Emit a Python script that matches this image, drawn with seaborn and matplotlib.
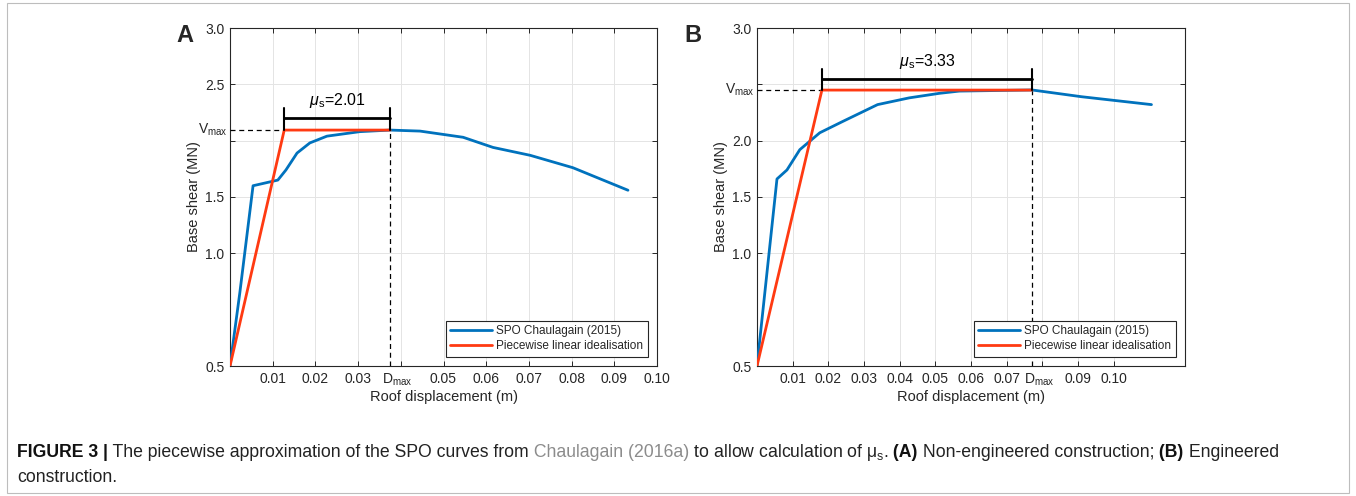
import matplotlib
matplotlib.use("Agg")
import matplotlib.pyplot as plt
import matplotlib.transforms as mtransforms
from matplotlib.patches import Rectangle
import seaborn as sns
import pandas as pd

# ---------------- data ----------------
# Panel A (non-engineered)
a_disp = [0.0, 0.0023, 0.0054, 0.0112, 0.0131, 0.0157, 0.0187, 0.0227, 0.0304, 0.0375,
          0.0445, 0.0546, 0.0616, 0.0703, 0.0803, 0.0932]
a_shear = [0.0, 0.65, 1.60, 1.65, 1.74, 1.89, 1.98, 2.04, 2.08, 2.094,
           2.085, 2.03, 1.94, 1.87, 1.76, 1.56]
a_idl_disp = [0.0, 0.0127, 0.0375]
a_idl_shear = [0.0, 2.094, 2.094]
a_dmax = 0.0375
a_vmax = 2.094
a_mu = "2.01"

# Panel B (engineered)
b_disp = [0.0, 0.0056, 0.0084, 0.0120, 0.0176, 0.0240, 0.0338, 0.0427, 0.0511, 0.0567,
          0.0771, 0.0910, 0.1106]
b_shear = [0.0, 1.66, 1.74, 1.92, 2.07, 2.17, 2.32, 2.38, 2.42, 2.44,
           2.45, 2.39, 2.32]
b_idl_disp = [0.0, 0.0182, 0.0771]
b_idl_shear = [0.0, 2.449, 2.449]
b_dmax = 0.0771
b_vmax = 2.449
b_mu = "3.33"

y_ticks = [0.0, 1.0, 1.5, 2.0, 2.5, 3.0]
a_yticklabels = ["0.5", "1.0", "1.5", "", "2.5", "3.0"]
b_yticklabels = ["0.5", "1.0", "1.5", "2.0", "", "3.0"]
x_ticks = [0.01, 0.02, 0.03, 0.04, 0.05, 0.06, 0.07, 0.08, 0.09, 0.10]
a_xticklabels = ["0.01", "0.02", "0.03", "", "0.05", "0.06", "0.07", "0.08", "0.09", "0.10"]
b_xticklabels = ["0.01", "0.02", "0.03", "0.04", "0.05", "0.06", "0.07", "", "0.09", "0.10"]

series_names = ["SPO Chaulagain (2015)", "Piecewise linear idealisation"]
BLUE = "#0072BD"
RED = "#FF3A12"

# ---------------- style ----------------
sns.set_theme(style="ticks")
plt.rcParams["font.family"] = ["Liberation Sans", "DejaVu Sans"]
plt.rcParams["mathtext.fontset"] = "custom"
plt.rcParams["mathtext.rm"] = "Liberation Sans"
plt.rcParams["mathtext.it"] = "Liberation Sans:italic"

W, H = 1356, 496
fig = plt.figure(figsize=(W / 100, H / 100), dpi=100)

axA = fig.add_axes([230 / W, 1 - 366 / H, 427 / W, 338 / H])
axB = fig.add_axes([757 / W, 1 - 366 / H, 428 / W, 338 / H])


def draw_panel(ax, disp, shear, idisp, ishear, dmax, vmax, mu, xlim, xticklabels,
               yticklabels, mu_y, cap_top):
    df1 = pd.DataFrame({"x": disp, "y": shear, "s": series_names[0]})
    df2 = pd.DataFrame({"x": idisp, "y": ishear, "s": series_names[1]})
    df = pd.concat([df1, df2], ignore_index=True)
    sns.lineplot(data=df, x="x", y="y", hue="s", sort=False, estimator=None,
                 palette={series_names[0]: BLUE, series_names[1]: RED},
                 linewidth=2.0, ax=ax, zorder=4)
    # dashed guides
    ax.plot([0, idisp[1]], [vmax, vmax], ls=(0, (4, 3)), color="black", lw=0.9, zorder=3,
            clip_on=False)
    ax.plot([dmax, dmax], [0, vmax], ls=(0, (4, 3)), color="black", lw=0.9, zorder=3)
    # ductility bracket
    ax.plot([idisp[1], dmax], [mu_y, mu_y], color="black", lw=2.0, zorder=5)
    ax.plot([idisp[1], idisp[1]], [vmax, cap_top], color="black", lw=1.5, zorder=5)
    ax.plot([dmax, dmax], [vmax, cap_top], color="black", lw=1.5, zorder=5)
    ax.text((idisp[1] + dmax) / 2, mu_y + 0.07, r"$\mathit{\mu}_{\mathrm{s}}$=" + mu,
            ha="center", va="bottom", fontsize=11.5, color="black")

    ax.set_xlim(*xlim)
    ax.set_ylim(0, 3.0)
    ax.set_xticks(x_ticks)
    ax.set_xticklabels(xticklabels)
    ax.set_yticks(y_ticks)
    ax.set_yticklabels(yticklabels)
    ax.grid(True, color="#e4e4e4", lw=0.7)
    ax.set_axisbelow(True)
    ax.tick_params(direction="in", top=True, right=True, length=3.5, width=0.7,
                   labelsize=10, colors="#262626", pad=4)
    for sp in ax.spines.values():
        sp.set_color("#262626")
        sp.set_linewidth(0.8)
    ax.set_xlabel("Roof displacement (m)", fontsize=10.5, color="#262626", labelpad=3)
    ax.set_ylabel("Base shear (MN)", fontsize=10.5, color="#262626", labelpad=3)

    # D_max label under axis
    trans = mtransforms.blended_transform_factory(ax.transData, ax.transAxes)
    off = mtransforms.offset_copy(trans, fig=fig, x=7, y=-5.5, units="dots")
    ax.text(dmax, 0, r"D$_{\mathrm{max}}$", transform=off, ha="center", va="top",
            fontsize=10, color="#262626")
    # V_max label left of axis
    trans2 = mtransforms.blended_transform_factory(ax.transAxes, ax.transData)
    off2 = mtransforms.offset_copy(trans2, fig=fig, x=-2, y=0, units="dots")
    ax.text(0, vmax, r"V$_{\mathrm{max}}$", transform=off2, ha="right", va="center",
            fontsize=10, color="#262626")

    leg = ax.legend(loc="lower right", fontsize=8.5, frameon=True, fancybox=False,
                    handlelength=3.5, borderpad=0.35, labelspacing=0.25,
                    handletextpad=0.4, borderaxespad=0.8, title=None)
    leg.get_frame().set_edgecolor("#262626")
    leg.get_frame().set_linewidth(0.8)
    leg.get_frame().set_alpha(1)
    for l in leg.get_lines():
        l.set_linewidth(2.0)


draw_panel(axA, a_disp, a_shear, a_idl_disp, a_idl_shear, a_dmax, a_vmax, a_mu,
           (0, 0.10), a_xticklabels, a_yticklabels, mu_y=2.20, cap_top=2.29)
draw_panel(axB, b_disp, b_shear, b_idl_disp, b_idl_shear, b_dmax, b_vmax, b_mu,
           (0, 0.12), b_xticklabels, b_yticklabels, mu_y=2.55, cap_top=2.64)

# panel letters
fig.text(185 / W, 1 - 35 / H, "A", fontsize=17, fontweight="bold", ha="center", va="center")
fig.text(693 / W, 1 - 35 / H, "B", fontsize=17, fontweight="bold", ha="center", va="center")

# outer frame
fig.add_artist(Rectangle((7 / W, 3 / H), 1342 / W, 490 / H, transform=fig.transFigure,
                         fill=False, edgecolor="#bdbdbd", lw=0.8))

# caption (multi-style, placed piece by piece; spaces lead each piece)
cap_family = ["Liberation Sans", "DejaVu Sans"]
cap_size = 12.7
pieces = [
    ("FIGURE 3 |", "bold", "#111111"),
    (" The piecewise approximation of the SPO curves from", "normal", "#222222"),
    (" Chaulagain (2016a)", "normal", "#8c8c8c"),
    (r" to allow calculation of μ$_\mathregular{s}$.", "normal", "#222222"),
    (" (A)", "bold", "#111111"),
    (" Non-engineered construction;", "normal", "#222222"),
    (" (B)", "bold", "#111111"),
    (" Engineered", "normal", "#222222"),
]
renderer = fig.canvas.get_renderer()
x = 17.0
y1 = 1 - 457 / H
for txt, wt, col in pieces:
    t = fig.text(x / W, y1, txt, fontsize=cap_size, fontweight=wt, color=col,
                 family=cap_family, ha="left", va="baseline")
    bb = t.get_window_extent(renderer=renderer)
    x += bb.width
fig.text(17 / W, 1 - 482 / H, "construction.", fontsize=cap_size, color="#222222",
         family=cap_family, ha="left", va="baseline")

fig.savefig("out.png", dpi=100)
